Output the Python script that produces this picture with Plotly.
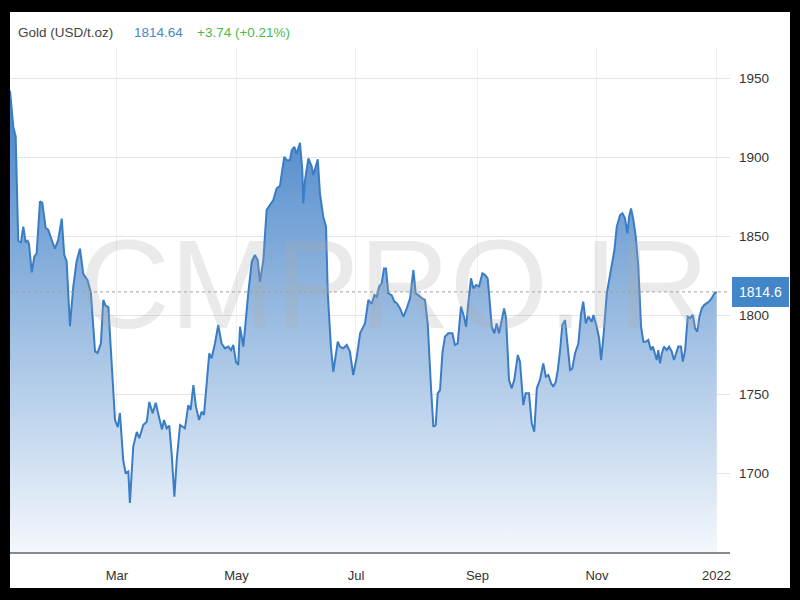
import pandas as pd
import plotly.graph_objects as go

# Day offsets (days since 2021-01-01) and gold prices (USD/t.oz)
day_of_year = [
    4.4, 6.1, 7.3, 8.6, 10.0, 11.2, 12.4, 13.4, 14.1, 15.5, 16.8, 18.0, 19.7, 20.9, 22.6, 23.9,
    25.7, 27.3, 29.0, 30.8, 32.1, 33.3, 35.0, 36.7, 38.4, 40.1, 41.8, 44.0, 45.7, 47.8, 49.1,
    50.8, 52.0, 53.2, 54.6, 56.3, 58.0, 59.4, 60.5, 62.2, 63.4, 64.8, 65.6, 67.3, 69.1, 70.4,
    72.4, 74.2, 75.5, 77.2, 78.8, 80.6, 82.0, 83.0, 84.4, 85.7, 86.9, 88.3, 89.5, 91.2, 93.7,
    95.4, 96.6, 98.0, 99.3, 100.9, 102.2, 103.4, 104.8, 106.1, 107.3, 109.0, 110.7, 112.4,
    114.1, 115.8, 117.2, 118.4, 119.7, 120.9, 121.8, 123.5, 126.0, 127.8, 129.4, 130.8, 132.0,
    133.7, 135.4, 137.1, 138.8, 140.5, 142.2, 143.1, 144.4, 145.6, 147.3, 148.2, 149.5, 150.7,
    152.4, 153.6, 154.1, 155.0, 156.7, 158.4, 159.2, 161.5, 162.6, 164.3, 165.7, 166.6, 168.2,
    169.4, 170.6, 171.7, 172.8, 174.5, 176.3, 177.9, 179.6, 181.4, 183.1, 185.6, 187.3, 189.0,
    190.4, 191.6, 192.8, 194.1, 195.3, 196.3, 197.5, 199.2, 200.6, 201.8, 203.5, 205.2, 206.9,
    208.6, 210.3, 211.5, 212.8, 214.6, 216.2, 217.6, 219.3, 220.5, 221.7, 222.7, 223.9, 225.1,
    226.4, 228.1, 230.2, 231.5, 232.9, 234.6, 236.1, 237.2, 238.3, 239.7, 240.9, 242.3, 243.8,
    245.5, 246.9, 248.2, 248.9, 250.3, 251.6, 252.8, 254.0, 255.4, 256.6, 257.6, 259.1, 260.5,
    261.8, 263.6, 264.7, 266.4, 267.6, 269.3, 270.7, 272.0, 273.3, 274.9, 276.6, 277.9, 279.2,
    280.6, 281.7, 283.0, 284.0, 285.2, 286.3, 287.7, 289.1, 290.3, 291.4, 292.8, 294.5, 295.9,
    297.0, 298.3, 299.6, 301.3, 302.2, 303.9, 305.1, 306.1, 307.3, 309.0, 310.2, 311.5, 312.9,
    314.1, 315.8, 317.0, 318.3, 319.5, 320.4, 321.4, 322.6, 323.8, 325.1, 326.5, 327.7, 328.9,
    330.2, 331.5, 332.5, 333.3, 334.5, 335.3, 336.2, 337.1, 338.2, 339.6, 340.8, 342.2, 343.3,
    344.4, 345.5, 346.9, 347.8, 349.0, 350.3, 351.5, 352.9, 354.1, 355.2, 356.3, 357.5, 358.7,
    360.0, 361.2, 362.6, 363.9, 365.1,
]
gold_price = [
    1942, 1919, 1913, 1847, 1846, 1856, 1846, 1847, 1845, 1827, 1837, 1839, 1872, 1871, 1855, 1854,
    1847.5, 1842, 1847.5, 1861, 1838, 1834, 1793, 1818, 1834, 1842, 1826, 1822, 1814, 1777, 1776,
    1782, 1809.5, 1806, 1805, 1771, 1733.5, 1729, 1738, 1708, 1700, 1701, 1681, 1716.7, 1726, 1722,
    1730.4, 1732.5, 1745, 1737.8, 1744.5, 1734.6, 1727.6, 1733.5, 1728.3, 1730, 1712.4, 1685, 1708.2, 1730.4, 1728.3,
    1743, 1740, 1755.7, 1742, 1733.5, 1738.8, 1736.7, 1758.9, 1775.7, 1772.6, 1782, 1793.7, 1782,
    1778.9, 1780, 1777.8, 1781, 1770.5, 1768.4, 1792.6, 1780, 1813.7, 1833.8, 1838, 1835, 1821,
    1834.8, 1866.5, 1869.6, 1872.8, 1880.2, 1881.7, 1889.7, 1900.2, 1898, 1898, 1904.4, 1906.5, 1902,
    1909, 1891.8, 1870.7, 1885.5, 1899.2, 1894, 1888.6, 1898.5, 1877, 1862.2, 1855.9, 1813.7, 1780,
    1764.1, 1775.7, 1783.1, 1780, 1778.9, 1781, 1776.8, 1762, 1773.6, 1788.4, 1794.7, 1809.5, 1807,
    1812.7, 1811.6, 1818, 1820, 1829.5, 1829.5, 1813.7, 1812.6, 1808.5, 1807.4, 1804.2, 1799, 1804.2,
    1810.6, 1828.5, 1813.7, 1812.6, 1810.6, 1809.5, 1794.7, 1753.6, 1729.3, 1730.4, 1750.4, 1752.5, 1775.7,
    1786.3, 1788.4, 1788.4, 1781, 1782, 1805.3, 1799, 1792.6, 1807.4, 1823.2, 1816.9, 1819, 1818,
    1826.4, 1825.3, 1823.2, 1813.7, 1792.6, 1788.4, 1794.7, 1788.4, 1797, 1804.2, 1798, 1758.9, 1753.6,
    1759, 1774.7, 1770.5, 1743, 1750.4, 1750.4, 1731.4, 1726.2, 1753.6, 1758.9, 1769.4, 1761, 1762,
    1756.8, 1754.6, 1757.8, 1765.2, 1777.8, 1793.7, 1796.8, 1777.8, 1765.2, 1766, 1775.7, 1782, 1801,
    1808.5, 1794.7, 1799, 1795.8, 1800, 1792.6, 1785.2, 1771.5, 1786.3, 1813.7, 1822, 1832.7, 1841.1,
    1855.9, 1863.3, 1864.4, 1861.2, 1851.7, 1862.2, 1867.5, 1860.1, 1849.6, 1830.6, 1792.6, 1783.1, 1783.1,
    1784.2, 1777.8, 1780, 1776.8, 1771.5, 1777.8, 1769.4, 1775.7, 1780, 1777.8, 1780, 1776.8, 1771.5,
    1775.7, 1780, 1780, 1770.5, 1777.8, 1798.9, 1798, 1800, 1791.6, 1789.5, 1799, 1804.2, 1806.3,
    1807.4, 1808.5, 1810.6, 1813.7, 1814.64,
]

tick_dates = ["2021-03-01", "2021-05-01", "2021-07-01", "2021-09-01", "2021-11-01", "2022-01-01"]
tick_labels = ["Mar", "May", "Jul", "Sep", "Nov", "2022"]
y_ticks = [1700, 1750, 1800, 1850, 1900, 1950]

last_price = 1814.64
change_text = "+3.74 (+0.21%)"

base = pd.Timestamp("2021-01-01")
dates = [base + pd.Timedelta(days=d) for d in day_of_year]

fig = go.Figure()
fig.add_trace(go.Scatter(
    x=dates, y=gold_price, mode="lines",
    line=dict(color="#3b7dc4", width=2),
    fill="tozeroy",
    fillgradient=dict(type="vertical", start=1650, stop=1950,
                      colorscale=[[0, "#f3f7fc"], [1, "#3f7fc6"]]),
    hoverinfo="skip", showlegend=False,
))

FONT = "Liberation Sans, Arial, sans-serif"

fig.update_layout(
    width=800, height=600,
    margin=dict(l=10, r=70, t=48, b=48),
    paper_bgcolor="black",
    plot_bgcolor="white",
    font=dict(family=FONT, color="#333333"),
    xaxis=dict(
        type="date",
        range=[base + pd.Timedelta(days=4.4), base + pd.Timedelta(days=371.9)],
        tickvals=tick_dates, ticktext=tick_labels,
        showgrid=True, gridcolor="#f0f0f0", gridwidth=1,
        showline=True, linecolor="#8a8a8a", linewidth=2,
        ticks="", tickfont=dict(size=13, color="#333333"),
        ticklabelstandoff=10,
        zeroline=False, fixedrange=True,
    ),
    yaxis=dict(
        side="right",
        range=[1650, 1969],
        tickvals=y_ticks,
        showgrid=True, gridcolor="#e4e4e4", gridwidth=1,
        showline=False, ticks="", zeroline=False,
        tickfont=dict(size=13.5, color="#333333"),
        ticklabelstandoff=8,
        fixedrange=True,
    ),
    shapes=[
        dict(type="rect", xref="paper", yref="paper",
             x0=0, x1=1.0833, y0=-0.0714, y1=1.0714,
             fillcolor="white", line=dict(width=0), layer="below"),
        dict(type="line", xref="paper", yref="y", x0=0, x1=1,
             y0=last_price, y1=last_price,
             line=dict(color="#a0a0a0", width=1, dash="dot"), layer="above"),
    ],
    annotations=[
        dict(text="CMPRO.IR", xref="paper", yref="paper", x=0.533, y=0.53,
             xanchor="center", yanchor="middle", showarrow=False,
             font=dict(family=FONT, size=126,
                       color="rgba(170,170,170,0.25)")),
        dict(text="Gold (USD/t.oz)", xref="paper", yref="paper", x=0.0083, y=1.0317,
             xanchor="left", yanchor="middle", showarrow=False,
             font=dict(size=13.5, color="#444444")),
        dict(text=f"{last_price:.2f}", xref="paper", yref="paper", x=0.1694, y=1.0317,
             xanchor="left", yanchor="middle", showarrow=False,
             font=dict(size=13.5, color="#4a86c5")),
        dict(text=change_text, xref="paper", yref="paper", x=0.2569, y=1.0317,
             xanchor="left", yanchor="middle", showarrow=False,
             font=dict(size=13.5, color="#4cb84c")),
        dict(text=f"{last_price:.1f}", xref="paper", yref="y", x=1.0028, y=last_price,
             xanchor="left", yanchor="middle", showarrow=False,
             bgcolor="#4285c8", borderpad=7, borderwidth=0,
             font=dict(size=14, color="white")),
    ],
)

fig.write_html(
    "out.html",
    config={"displayModeBar": False, "staticPlot": True},
    post_script="document.body.style.margin='0';document.body.style.overflow='hidden';",
)
